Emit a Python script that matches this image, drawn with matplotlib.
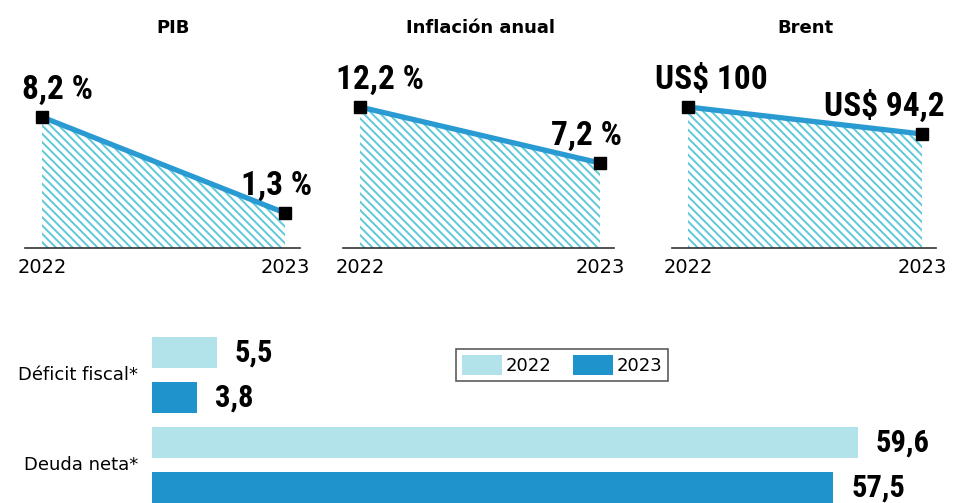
import matplotlib
matplotlib.use('Agg')
import matplotlib.pyplot as plt
from matplotlib.patches import Patch
from matplotlib import font_manager

plt.rcParams['hatch.linewidth'] = 1.4

years = ['2022', '2023']
titles = ['PIB', 'Inflación anual', 'Brent']
pib = [8.2, 1.3]
inflacion = [12.2, 7.2]
brent = [100, 94.2]
labels_top = [['8,2 %', '1,3 %'], ['12,2 %', '7,2 %'], ['US$ 100', 'US$ 94,2']]

categorias = ['Déficit fiscal*', 'Deuda neta*']
v2022 = [5.5, 59.6]
v2023 = [3.8, 57.5]
etiquetas_2022 = ['5,5', '59,6']
etiquetas_2023 = ['3,8', '57,5']

# pick a narrow font for the big numbers, if one is installed
fonts = font_manager.fontManager.ttflist
cond_family = None
cond_stretch = 'normal'
for name in ['Liberation Sans Narrow', 'Roboto Condensed', 'Open Sans Condensed',
             'DejaVu Sans Condensed']:
    if any(f.name == name for f in fonts):
        cond_family = name
        break
if cond_family is None:
    for name in ['DejaVu Sans', 'Open Sans', 'Roboto', 'Noto Sans']:
        if any(f.name == name and f.stretch in ('condensed', 'semi-condensed',
                                                 'extra-condensed', 125, 87, 75)
               for f in fonts):
            cond_family = name
            cond_stretch = 'condensed'
            break
if cond_family is None:
    cond_family = 'DejaVu Sans'
    big = 19
else:
    big = 24
num_font = dict(family=[cond_family, 'DejaVu Sans'], fontweight='bold',
                fontstretch=cond_stretch)

W, H = 964, 503
fig = plt.figure(figsize=(W / 100, H / 100), dpi=100)
fig.patch.set_facecolor('white')

line_c = '#2a9bd2'
hatch_c = '#5fc8d8'

# pixel layout for the three small panels: (first point x, second point x)
px = [(42, 285), (360, 600), (688, 922)]
ylims = [(-1.22, 12.3), (-0.39, 16.4), (69.7, 110.1)]
series = [pib, inflacion, brent]
first_dx = [-20, -24, -33]
second_dx = [27, 22, 23]
top, base = 60, 248
xl = (-0.07, 1.06)

for i in range(3):
    x0, x1 = px[i]
    unit = x1 - x0
    left = x0 + xl[0] * unit
    width = (xl[1] - xl[0]) * unit
    ax = fig.add_axes([left / W, 1 - base / H, width / W, (base - top) / H])
    vals = series[i]
    lo, hi = ylims[i]
    ax.fill_between([0, 1], vals, lo, facecolor='none', edgecolor=hatch_c,
                    hatch='\\\\\\\\', linewidth=0)
    ax.plot([0, 1], vals, color=line_c, lw=3.8, solid_capstyle='butt', zorder=3)
    ax.plot([0, 1], vals, 's', color='black', ms=8, zorder=4)
    ax.set_xlim(*xl)
    ax.set_ylim(lo, hi)
    for s in ['top', 'right', 'left']:
        ax.spines[s].set_visible(False)
    ax.spines['bottom'].set_color('#333333')
    ax.spines['bottom'].set_linewidth(1.2)
    ax.set_yticks([])
    ax.set_xticks([0, 1])
    ax.set_xticklabels(years, fontsize=14)
    ax.tick_params(axis='x', length=0, pad=7)
    fig.text(((x0 + x1) / 2 + (10 if i == 0 else 0)) / W, 1 - 28 / H, titles[i],
             ha='center', va='center', fontsize=13, fontweight='bold')
    # value labels
    ax.annotate(labels_top[i][0], (0, vals[0]), xytext=(first_dx[i], 18),
                textcoords='offset pixels', ha='left', va='baseline',
                fontsize=big, **num_font)
    ax.annotate(labels_top[i][1], (1, vals[1]), xytext=(second_dx[i], 18),
                textcoords='offset pixels', ha='right', va='baseline',
                fontsize=big, **num_font)

# bottom bar chart
light = '#b2e2ea'
dark = '#1f94cc'
bx0 = 152
scale = 11.85
ax2 = fig.add_axes([bx0 / W, 0, (W - bx0) / W, (503 - 320) / H])
ax2.set_xlim(0, (W - bx0) / scale)
ax2.set_ylim(3.344, -0.72)
pos22 = [0, 2]
pos23 = [1, 3]
ax2.barh(pos22, v2022, height=0.69, color=light)
ax2.barh(pos23, v2023, height=0.69, color=dark)
for p, v, t in zip(pos22, v2022, etiquetas_2022):
    ax2.text(v + 1.5, p, t, va='center', ha='left', fontsize=big - 2, **num_font)
for p, v, t in zip(pos23, v2023, etiquetas_2023):
    ax2.text(v + 1.5, p, t, va='center', ha='left', fontsize=big - 2, **num_font)
ax2.axis('off')
for c, ypix in zip(categorias, [375, 465]):
    fig.text(138 / W, 1 - ypix / H, c, ha='right', va='center', fontsize=13)

handles = [Patch(facecolor=light, label='2022'), Patch(facecolor=dark, label='2023')]
leg = fig.legend(handles=handles, loc='center', bbox_to_anchor=(562 / W, 1 - 365 / H),
                 ncol=2, fontsize=13, frameon=True, fancybox=False,
                 handlelength=2.2, handleheight=1.3, handletextpad=0.2,
                 columnspacing=1.2, borderpad=0.35)
leg.get_frame().set_edgecolor('#333333')
leg.get_frame().set_linewidth(1.2)

fig.savefig('out.png', dpi=100)
